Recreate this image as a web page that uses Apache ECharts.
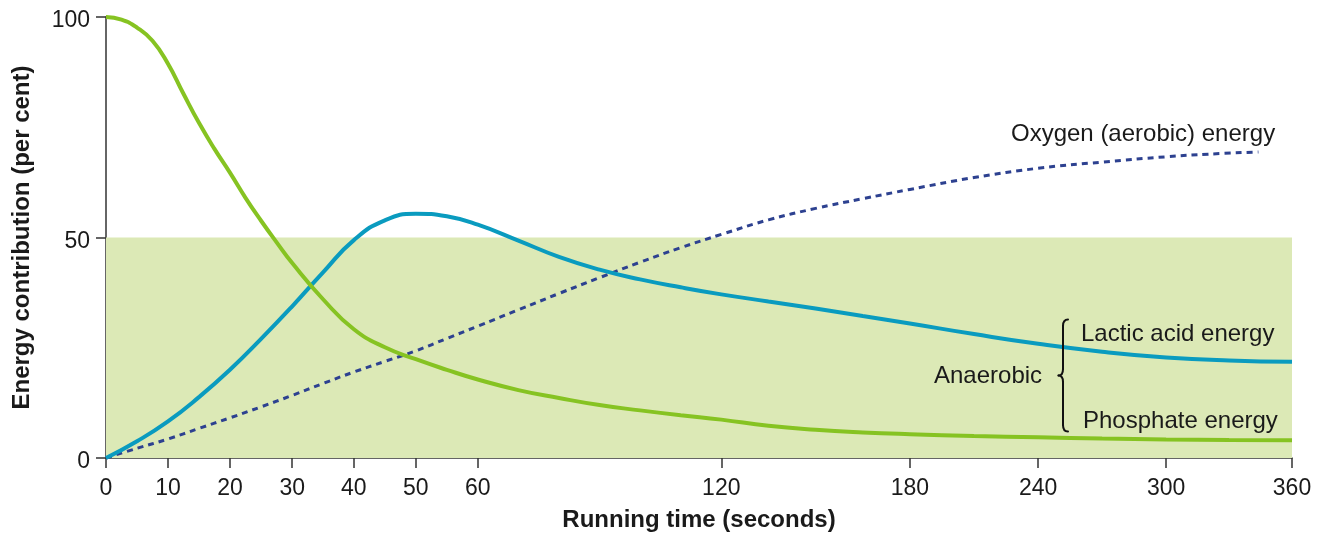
<!DOCTYPE html>
<html>
<head>
<meta charset="utf-8">
<title>Energy contribution by running time</title>
<script src="https://cdn.jsdelivr.net/npm/echarts@6/dist/echarts.min.js"></script>
<style>
  html, body { margin: 0; padding: 0; background: #ffffff; }
  #chart { width: 1323px; height: 533px; }
</style>
</head>
<body>
<div id="chart"></div>
<script>
// Printed time ticks (seconds) and their labels
const timeTicks = [0, 10, 20, 30, 40, 50, 60, 120, 180, 240, 300, 360];
const tickLabels = ['0', '10', '20', '30', '40', '50', '60', '120', '180', '240', '300', '360'];
// The time scale is stretched at the start: distance of each tick along the axis
const tickStops = [0, 62, 124, 186.3, 248, 310, 372, 615.6, 804.3, 932.6, 1060.6, 1186.6];

// Phosphate energy (per cent)
const phosphateTime = [0, 2.5, 5, 7.5, 10, 12.5, 15, 17.5, 20, 22.5, 25, 27.5, 30, 35, 40, 45, 50, 55, 60,
  70, 80, 90, 100, 110, 120, 135, 150, 165, 180, 210, 240, 270, 300, 330, 360];
const phosphateValue = [100, 99.4, 97.6, 94.6, 89.4, 82.6, 76.0, 70.1, 64.7, 59.0, 53.8, 48.9, 44.2,
  36.0, 29.2, 25.1, 22.4, 20.0, 17.8, 15.4, 13.6, 12.0, 10.8, 9.7, 8.7, 7.3, 6.4, 5.8, 5.4,
  5.0, 4.7, 4.4, 4.2, 4.1, 4.0];

// Lactic acid energy (per cent)
const lacticTime = [0, 5, 10, 15, 20, 25, 30, 35, 40, 45, 50, 55, 60, 70, 80, 90, 100, 110, 120,
  135, 150, 165, 180, 210, 240, 270, 300, 330, 360];
const lacticValue = [0, 3.8, 8.3, 13.8, 20.0, 27.0, 34.4, 42.1, 49.4, 53.9, 55.4, 54.8, 52.9,
  49.3, 45.6, 42.7, 40.5, 38.7, 37.1, 35.5, 33.9, 32.2, 30.5, 28.1, 25.9, 24.1, 22.8, 22.1, 21.8];

// Oxygen (aerobic) energy (per cent)
const oxygenTime = [0, 5, 10, 15, 20, 25, 30, 35, 40, 45, 50, 55, 60, 70, 80, 90, 100, 110, 120,
  135, 150, 165, 180, 210, 240, 270, 300, 320, 344];
const oxygenValue = [0, 2.2, 4.3, 6.7, 9.1, 11.6, 14.2, 16.9, 19.5, 21.9, 24.3, 27.1, 29.9,
  33.6, 37.3, 40.9, 44.4, 47.7, 50.7, 54.0, 56.6, 58.8, 60.9, 63.6, 65.7, 67.1, 68.3, 68.9, 69.4];

// Anaerobic band on the y axis
const anaerobicBand = [0, 50];

// Map seconds onto the stretched axis, segment by segment
function timeToAxis(t) {
  for (let i = 1; i < timeTicks.length; i++) {
    if (t <= timeTicks[i]) {
      const f = (t - timeTicks[i - 1]) / (timeTicks[i] - timeTicks[i - 1]);
      return tickStops[i - 1] + f * (tickStops[i] - tickStops[i - 1]);
    }
  }
  return tickStops[tickStops.length - 1];
}
function toPoints(times, values) {
  return times.map((t, i) => [timeToAxis(t), values[i]]);
}
function labelFor(v) {
  let best = 0;
  for (let i = 1; i < tickStops.length; i++) {
    if (Math.abs(tickStops[i] - v) < Math.abs(tickStops[best] - v)) best = i;
  }
  return tickLabels[best];
}

const FONT = '"Liberation Sans", Arial, Helvetica, sans-serif';
const TEXT = '#1a1a1a';
const AXIS = '#333333';

const chart = echarts.init(document.getElementById('chart'), null, { renderer: 'canvas' });

const brace = { stroke: '#111111', lineWidth: 2, fill: 'none', lineCap: 'round' };
function note(text, x, y) {
  return {
    type: 'text', x: x, y: y, z: 20,
    style: { text: text, font: '24px ' + FONT, fill: TEXT, align: 'left', verticalAlign: 'middle' }
  };
}

chart.setOption({
  animation: false,
  backgroundColor: '#ffffff',
  textStyle: { fontFamily: FONT, color: TEXT },
  grid: { left: 106, right: 31, top: 17, bottom: 75, containLabel: false, outerBoundsMode: 'none' },
  xAxis: {
    type: 'value',
    min: 0,
    max: tickStops[tickStops.length - 1],
    name: 'Running time (seconds)',
    nameLocation: 'middle',
    nameGap: 50,
    nameTextStyle: { fontFamily: FONT, fontWeight: 'bold', fontSize: 24, color: TEXT },
    axisLine: { show: true, lineStyle: { color: AXIS, width: 1.5 } },
    axisTick: { show: true, customValues: tickStops, length: 10, lineStyle: { color: AXIS, width: 1.5 } },
    axisLabel: {
      customValues: tickStops,
      formatter: labelFor,
      margin: 19,
      fontFamily: FONT,
      fontSize: 23,
      color: TEXT
    },
    splitLine: { show: false }
  },
  yAxis: {
    type: 'value',
    min: 0,
    max: 100,
    interval: 50,
    name: 'Energy contribution (per cent)',
    nameLocation: 'middle',
    nameGap: 72,
    nameTextStyle: { fontFamily: FONT, fontWeight: 'bold', fontSize: 24, color: TEXT },
    axisLine: { show: true, lineStyle: { color: AXIS, width: 1.5 } },
    axisTick: { show: true, length: 10, lineStyle: { color: AXIS, width: 1.5 } },
    axisLabel: {
      margin: 16,
      formatter: v => '{v|' + v + '}',
      rich: { v: { fontFamily: FONT, fontSize: 23, color: TEXT, padding: [8, 0, 0, 0] } }
    },
    splitLine: { show: false }
  },
  series: [
    {
      name: 'Anaerobic band',
      type: 'line',
      data: [],
      z: 0,
      silent: true,
      markArea: {
        silent: true,
        itemStyle: { color: '#dce9b6' },
        data: [[{ yAxis: anaerobicBand[0] }, { yAxis: anaerobicBand[1] }]]
      }
    },
    {
      name: 'Oxygen (aerobic) energy',
      type: 'line',
      data: toPoints(oxygenTime, oxygenValue),
      smooth: 0.4,
      showSymbol: false,
      z: 3,
      lineStyle: { color: '#2d4190', width: 3, type: [6, 5] }
    },
    {
      name: 'Lactic acid energy',
      type: 'line',
      data: toPoints(lacticTime, lacticValue),
      smooth: 0.5,
      showSymbol: false,
      z: 4,
      lineStyle: { color: '#0a9bbf', width: 4 }
    },
    {
      name: 'Phosphate energy',
      type: 'line',
      data: toPoints(phosphateTime, phosphateValue),
      smooth: 0.5,
      showSymbol: false,
      z: 5,
      lineStyle: { color: '#86c322', width: 4 }
    }
  ],
  graphic: [
    note('Oxygen (aerobic) energy', 1011, 134.7),
    note('Lactic acid energy', 1081, 334.5),
    note('Phosphate energy', 1083, 421.7),
    note('Anaerobic', 934, 376.7),
    // curly brace grouping the two anaerobic sources
    { type: 'bezierCurve', z: 20, shape: { x1: 1068, y1: 319.5, cpx1: 1063, cpy1: 319.5, x2: 1063, y2: 326 }, style: brace },
    { type: 'line', z: 20, shape: { x1: 1063, y1: 326, x2: 1063, y2: 369 }, style: brace },
    { type: 'bezierCurve', z: 20, shape: { x1: 1063, y1: 369, cpx1: 1063, cpy1: 375.5, x2: 1058.5, y2: 375.5 }, style: brace },
    { type: 'bezierCurve', z: 20, shape: { x1: 1058.5, y1: 375.5, cpx1: 1063, cpy1: 375.5, x2: 1063, y2: 382 }, style: brace },
    { type: 'line', z: 20, shape: { x1: 1063, y1: 382, x2: 1063, y2: 425 }, style: brace },
    { type: 'bezierCurve', z: 20, shape: { x1: 1063, y1: 425, cpx1: 1063, cpy1: 431.5, x2: 1068, y2: 431.5 }, style: brace }
  ]
});
</script>
</body>
</html>
